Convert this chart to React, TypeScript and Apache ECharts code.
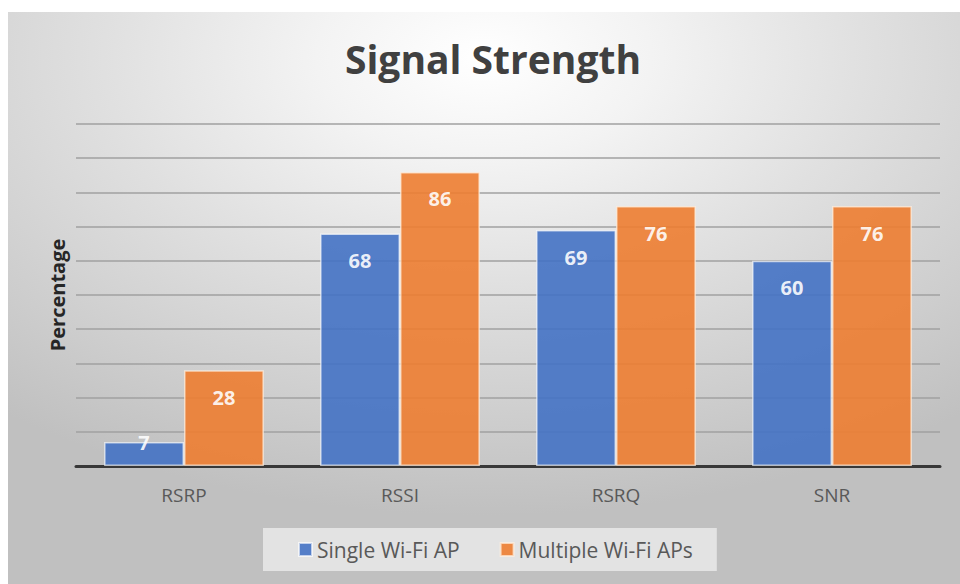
import React, { useEffect, useRef } from "react";
import * as echarts from "echarts";

const categories = ["RSRP", "RSSI", "RSRQ", "SNR"];
const singleAP = [7, 68, 69, 60];
const multipleAPs = [28, 86, 76, 76];
const seriesNames = ["Single Wi-Fi AP", "Multiple Wi-Fi APs"];
const titleText = "Signal Strength";
const yAxisTitle = "Percentage";

const FONT = "'Open Sans', 'Noto Sans', sans-serif";

function makeData(values: number[]) {
  return values.map((v) =>
    v < 15
      ? { value: v, label: { position: "top", distance: -10 } }
      : { value: v }
  );
}

export default function App() {
  const ref = useRef<HTMLDivElement>(null);
  useEffect(() => {
    if (!ref.current) return;
    const chart = echarts.init(ref.current, undefined, { renderer: "svg" });
    const labelStyle = {
      show: true,
      position: "insideTop",
      distance: 17,
      color: "#ffffff",
      fontWeight: "bold",
      fontSize: 20,
      fontFamily: FONT,
    };
    chart.setOption({
      animation: false,
      graphic: [
        {
          type: "rect",
          z: -10,
          silent: true,
          shape: { x: 8, y: 12, width: 952, height: 572 },
          style: {
            fill: {
              type: "radial",
              x: 0.5,
              y: 0.08,
              r: 0.8,
              colorStops: [
                { offset: 0, color: "#ffffff" },
                { offset: 0.22, color: "#f3f3f3" },
                { offset: 0.5, color: "#e0e0e0" },
                { offset: 0.8, color: "#cdcdcd" },
                { offset: 1, color: "#c0c0c0" },
              ],
            },
          },
        },
      ],
      title: {
        text: titleText,
        left: 488,
        textAlign: "center",
        top: 34,
        textStyle: {
          fontFamily: FONT,
          fontSize: 39,
          fontWeight: "bold",
          color: "#404040",
        },
      },
      legend: {
        data: seriesNames,
        left: 263,
        top: 528,
        backgroundColor: "#e3e3e3",
        padding: [11, 24, 11, 35],
        itemWidth: 13,
        itemHeight: 13,
        itemGap: 40,
        icon: "rect",
        textStyle: { fontFamily: FONT, fontSize: 21, color: "#595959" },
      },
      grid: { left: 76, right: 20, top: 124, bottom: 118, containLabel: false },
      xAxis: {
        type: "category",
        data: categories,
        axisLine: { lineStyle: { color: "#383838", width: 3 } },
        axisTick: { show: false },
        axisLabel: {
          color: "#595959",
          fontSize: 19,
          fontFamily: FONT,
          margin: 19,
        },
      },
      yAxis: {
        type: "value",
        min: 0,
        max: 100,
        interval: 10,
        name: yAxisTitle,
        nameLocation: "middle",
        nameGap: 9,
        nameRotate: 90,
        nameTextStyle: {
          fontFamily: FONT,
          fontSize: 20,
          fontWeight: "bold",
          color: "#262626",
        },
        axisLabel: { show: false },
        axisTick: { show: false },
        axisLine: { show: false },
        splitLine: { lineStyle: { color: "#a0a0a0", width: 1.5 } },
      },
      series: [
        {
          name: seriesNames[0],
          type: "bar",
          data: makeData(singleAP),
          barGap: "0%",
          barCategoryGap: "26%",
          itemStyle: {
            color: "#4472C4",
            opacity: 0.9,
            borderColor: "rgba(255,255,255,0.7)",
            borderWidth: 1.5,
          },
          label: labelStyle,
        },
        {
          name: seriesNames[1],
          type: "bar",
          data: makeData(multipleAPs),
          itemStyle: {
            color: "#ED7D31",
            opacity: 0.9,
            borderColor: "rgba(255,240,225,0.8)",
            borderWidth: 1.5,
          },
          label: labelStyle,
        },
      ],
    });
    return () => chart.dispose();
  }, []);
  return (
    <div
      ref={ref}
      style={{
        position: "absolute",
        left: 0,
        top: 0,
        width: 960,
        height: 584,
        background: "#ffffff",
      }}
    />
  );
}
